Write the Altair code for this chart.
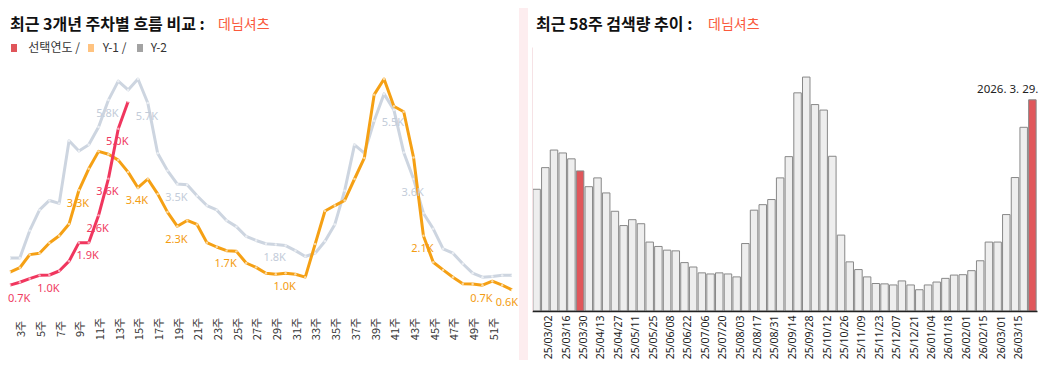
import altair as alt
import pandas as pd

# ---------------- data ----------------
weeks = list(range(1, 53))
sel_vals = [0.71, 0.79, 0.89, 0.98, 0.99, 1.10, 1.37, 1.88, 1.88, 2.63, 3.64, 5.01, 5.76]
y1_vals = [1.07, 1.19, 1.55, 1.59, 1.87, 2.07, 2.39,
           3.32, 3.91, 4.39, 4.31, 4.15, 3.82, 3.39, 3.63, 3.22, 2.72,
           2.33, 2.49, 2.38, 1.88, 1.76, 1.66, 1.64, 1.32, 1.20, 1.04,
           1.01, 1.04, 1.01, 0.93, 1.84, 2.75, 2.90, 3.04, 3.63, 4.21,
           5.95, 6.38, 5.63, 5.48, 4.22, 2.07, 1.34, 1.13, 0.93, 0.75,
           0.74, 0.71, 0.82, 0.71, 0.58]
y2_vals = [1.46, 1.46, 2.21, 2.78, 3.04, 2.96, 4.68, 4.40, 4.57, 5.06,
           5.80, 6.32, 6.08, 6.38, 5.72, 4.34, 3.86, 3.49, 3.47, 3.17,
           2.90, 2.78, 2.49, 2.32, 2.05, 1.94, 1.85, 1.83, 1.80, 1.66,
           1.50, 1.59, 1.92, 2.38, 3.31, 4.57, 4.34, 5.23, 5.97, 5.53,
           4.36, 3.63, 2.69, 2.26, 1.71, 1.59, 1.30, 1.04, 0.93, 0.95,
           0.98, 0.98]
label_weeks = {
    "선택연도": [1, 5, 9, 10, 11, 12],
    "Y-1": [8, 14, 18, 23, 29, 43, 49, 52],
    "Y-2": [11, 15, 18, 28, 40, 42],
}
series_names = ["선택연도", "Y-1", "Y-2"]
line_colors = ["#f0365e", "#f5a014", "#cdd5e0"]
label_colors = ["#ef3b62", "#f39c12", "#c3ccd9"]
legend_colors = ["#e0555a", "#ffc380", "#a3a3a3"]

# 58-week bar chart: Y-1 weeks 8..52 followed by this year's weeks 1..13
bar_first_week = "2025-02-23"
bar_vals = y1_vals[7:] + sel_vals
bar_dates = pd.date_range(bar_first_week, periods=len(bar_vals), freq="7D")
bar_labels = [d.strftime("%y/%m/%d") for d in bar_dates]
bar_tick_labels = bar_labels[1:56:2]
highlight = [bar_labels[5], bar_labels[-1]]
last = bar_dates[-1]
annot = f"{last.year}. {last.month}. {last.day}."

keyword = "데님셔츠"
title_left = "최근 3개년 주차별 흐름 비교 :"
title_right = "최근 58주 검색량 추이 :"

# ---------------- tables ----------------
series_vals = {"선택연도": sel_vals, "Y-1": y1_vals, "Y-2": y2_vals}
rows = []
for s, vals in series_vals.items():
    for w, v in zip(weeks, vals):
        rows.append({"s": s, "week": w, "v": v})
df_lines = pd.DataFrame(rows)

lab_rows = []
for s, wl in label_weeks.items():
    for w in wl:
        v = series_vals[s][w - 1]
        lab_rows.append({"s": s, "week": w, "v": v})
df_labels = pd.DataFrame(lab_rows)

df_bar = pd.DataFrame({"d": bar_labels, "v": bar_vals})
one = alt.Data(values=[{"p": 0}])

KFONT = "Noto Sans CJK KR"
NFONT = "Noto Sans"

TOP = 39       # plot top inside the svg (both panels share it)
BOTTOM = 352   # bottom of the white panels inside the svg
H = 264

# ---------------- left panel ----------------
W_L = 502

xL = alt.X("week:Q", scale=alt.Scale(domain=[1, 52], nice=False, zero=False),
           axis=alt.Axis(values=list(range(3, 52, 2)), labelExpr="datum.value + '주'",
                         labelAngle=-90, labelAlign="center", labelBaseline="middle",
                         labelPadding=17.5, labelOffset=-8, ticks=False, tickSize=0,
                         domain=False, grid=False, title=None, labelFont=KFONT,
                         labelFontSize=11, labelColor="#333333", labelOverlap=False,
                         labelFlush=False, zindex=1))
yL = alt.Y("v:Q", scale=alt.Scale(domain=[0, 7.26], nice=False), axis=None)

panel_L = alt.Chart(one).mark_rect(color="white").encode(
    x=alt.value(-2), x2=alt.value(509), y=alt.value(-TOP), y2=alt.value(BOTTOM - TOP))

tL1 = alt.Chart(one).mark_text(text=title_left, align="left", baseline="middle", font=KFONT,
                               fontSize=16, fontWeight="bold", color="#111111").encode(
    x=alt.value(0), y=alt.value(-22))
tL2 = alt.Chart(one).mark_text(text=keyword, align="left", baseline="middle", font=KFONT,
                               fontSize=14, color="#fa5a3c").encode(
    x=alt.value(208), y=alt.value(-22))

leg_x = [1, 78, 127]
leg_tx = [18.3, 92.7, 140.7]
leg_txt = ["선택연도 /", "Y-1 /", "Y-2"]
legend_layers = []
for i in range(3):
    legend_layers.append(alt.Chart(one).mark_rect(color=legend_colors[i]).encode(
        x=alt.value(leg_x[i]), x2=alt.value(leg_x[i] + 6), y=alt.value(-3), y2=alt.value(5)))
    legend_layers.append(alt.Chart(one).mark_text(text=leg_txt[i], align="left", baseline="middle",
                                                  font=KFONT, fontSize=12, color="#333333").encode(
        x=alt.value(leg_tx[i]), y=alt.value(1)))

line_layers = []
for s, c in zip(["Y-2", "Y-1", "선택연도"], [line_colors[2], line_colors[1], line_colors[0]]):
    base = alt.Chart(df_lines).transform_filter(alt.datum.s == s)
    line_layers.append(base.mark_line(color=c, strokeWidth=3, strokeJoin="round").encode(x=xL, y=yL))
    line_layers.append(base.mark_circle(size=6, color="white", opacity=0.6).encode(x=xL, y=yL))

lab_color = alt.Color("s:N", scale=alt.Scale(domain=series_names, range=label_colors), legend=None)
lab_base = alt.Chart(df_labels).transform_calculate(lab="format(datum.v, '.1f') + 'K'")
lab_mid = lab_base.transform_filter("datum.week > 1 && datum.week < 52").mark_text(
    font=NFONT, fontSize=11, dy=13.5, dx=-1, align="center", baseline="middle").encode(
    x=xL, y=yL, text="lab:N", color=lab_color)
lab_left = lab_base.transform_filter("datum.week == 1").mark_text(
    font=NFONT, fontSize=11, dy=13.5, dx=-2, align="left", baseline="middle").encode(
    x=xL, y=yL, text="lab:N", color=lab_color)
lab_right = lab_base.transform_filter("datum.week == 52").mark_text(
    font=NFONT, fontSize=11, dy=13.5, dx=6, align="right", baseline="middle").encode(
    x=xL, y=yL, text="lab:N", color=lab_color)

left = alt.layer(panel_L, tL1, tL2, *legend_layers, *line_layers, lab_mid, lab_left, lab_right).properties(
    width=W_L, height=H)

# ---------------- right panel ----------------
W_R = 505

xR = alt.X("d:N", sort=None, scale=alt.Scale(paddingInner=0.14, paddingOuter=0.1),
           axis=alt.Axis(values=bar_tick_labels, labelAngle=-90, labelFont=NFONT,
                         labelFontSize=10.5, labelColor="#222222", ticks=False, tickSize=0,
                         domainColor="#222222", domainWidth=1.5, labelPadding=4, labelOffset=4,
                         title=None, labelOverlap=False, zindex=1))
yR = alt.Y("v:Q", scale=alt.Scale(domain=[0, 7.2], nice=False),
           axis=alt.Axis(labels=False, ticks=False, grid=False, title=None,
                         domainColor="#f6e2e5", domainWidth=1, zindex=1))

panel_R = alt.Chart(one).mark_rect(color="white").encode(
    x=alt.value(-4), x2=alt.value(507), y=alt.value(-TOP), y2=alt.value(BOTTOM - TOP))
tR1 = alt.Chart(one).mark_text(text=title_right, align="left", baseline="middle", font=KFONT,
                               fontSize=16, fontWeight="bold", color="#111111").encode(
    x=alt.value(4), y=alt.value(-22))
tR2 = alt.Chart(one).mark_text(text=keyword, align="left", baseline="middle", font=KFONT,
                               fontSize=14, color="#fa5a3c").encode(
    x=alt.value(176), y=alt.value(-22))

bars = alt.Chart(df_bar).mark_bar(stroke="#888888", strokeWidth=1).encode(
    x=xR, y=yR,
    color=alt.condition(alt.FieldOneOfPredicate(field="d", oneOf=highlight),
                        alt.value("#e0575b"), alt.value("#eeeeee")))
note = alt.Chart(df_bar).transform_filter(alt.datum.d == bar_labels[-1]).mark_text(
    text=annot, align="right", baseline="bottom", dx=6, dy=-5, font=NFONT, fontSize=11.5,
    color="#222222").encode(x=xR, y=yR)

right = alt.layer(panel_R, tR1, tR2, bars, note).properties(width=W_R, height=H)

chart = alt.hconcat(left, right, spacing=9, padding=0, background="#fdedef").configure_view(
    stroke=None)

chart.save("out.html", embed_options={"renderer": "svg", "actions": False})
